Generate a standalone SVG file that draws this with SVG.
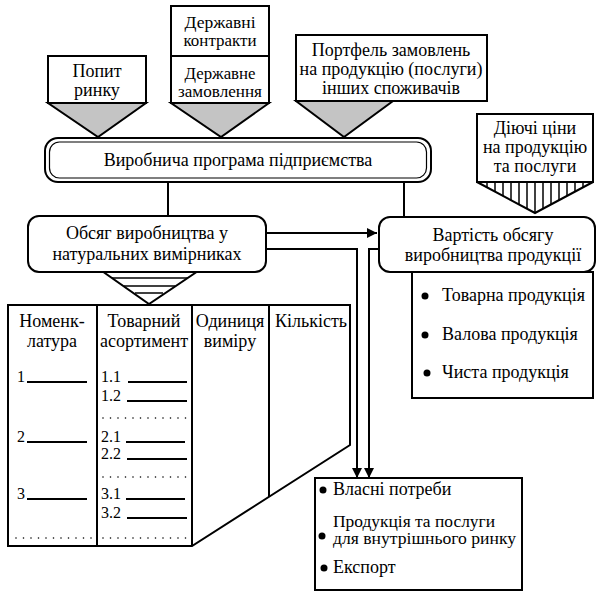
<svg xmlns="http://www.w3.org/2000/svg" width="605" height="600" viewBox="0 0 605 600" font-family="Liberation Serif, Times New Roman, serif">
<defs>
<style>
text{font-size:18px;fill:#000;}
.s{font-size:16px;}
.c{text-anchor:middle;}
.box{fill:#fff;stroke:#000;stroke-width:2;}
.tri{fill:#c4c4c4;stroke:#000;stroke-width:2;}
.ln{fill:none;stroke:#000;stroke-width:2;}
.thin{fill:none;stroke:#000;stroke-width:1.5;}
.dots{fill:none;stroke:#000;stroke-width:1.6;stroke-dasharray:0 7.5;stroke-linecap:round;}
</style>
<marker id="ah" viewBox="0 0 10 10" refX="10" refY="5" markerWidth="5" markerHeight="5" orient="auto" markerUnits="strokeWidth">
<path d="M0,0 L10,5 L0,10 z" fill="#000"/>
</marker>
</defs>
<rect width="605" height="600" fill="#fff"/>

<g id="connectors">
<line class="ln" x1="168" y1="182" x2="168" y2="216"/>
<line class="ln" x1="404" y1="182" x2="404" y2="217"/>
<line class="ln" x1="266" y1="233" x2="377" y2="233" marker-end="url(#ah)"/>
<polyline class="ln" points="266,249 357,249 357,478" marker-end="url(#ah)"/>
<polyline class="ln" points="379,249 369,249 369,478" marker-end="url(#ah)"/>
</g>

<g id="popyt">
<polygon class="tri" points="48,103 146,103 98,137"/>
<rect class="box" x="48" y="56" width="98" height="47"/>
<text class="c" x="97" y="77">Попит</text>
<text class="c" x="97" y="96">ринку</text>
</g>

<g id="kontrakty">
<rect class="box" x="171" y="6" width="98" height="50"/>
<text class="c s" x="220" y="28" textLength="71" lengthAdjust="spacingAndGlyphs">Державні</text>
<text class="c s" x="220" y="46" textLength="73" lengthAdjust="spacingAndGlyphs">контракти</text>
</g>

<g id="zamovlennia">
<polygon class="tri" points="171,103 269,103 221,137"/>
<rect class="box" x="171" y="56" width="98" height="47"/>
<text class="c s" x="220" y="79" textLength="71" lengthAdjust="spacingAndGlyphs">Державне</text>
<text class="c s" x="220" y="97" textLength="84" lengthAdjust="spacingAndGlyphs">замовлення</text>
</g>

<g id="portfel">
<polygon class="tri" points="296,101 393,101 344,137"/>
<rect class="box" x="296" y="35" width="191" height="66"/>
<text class="c" x="391" y="56">Портфель замовлень</text>
<text class="c" x="391" y="75">на продукцію (послуги)</text>
<text class="c" x="391" y="94">інших споживачів</text>
</g>

<g id="tsiny">
<polygon fill="#fff" stroke="#000" stroke-width="2" points="477,182 593,182 535,213"/>
<g class="thin">
<line x1="487" y1="182" x2="487" y2="187"/>
<line x1="495" y1="182" x2="495" y2="192"/>
<line x1="503" y1="182" x2="503" y2="196"/>
<line x1="511" y1="182" x2="511" y2="200"/>
<line x1="519" y1="182" x2="519" y2="205"/>
<line x1="527" y1="182" x2="527" y2="209"/>
<line x1="535" y1="182" x2="535" y2="213"/>
<line x1="543" y1="182" x2="543" y2="209"/>
<line x1="551" y1="182" x2="551" y2="205"/>
<line x1="559" y1="182" x2="559" y2="200"/>
<line x1="567" y1="182" x2="567" y2="196"/>
<line x1="575" y1="182" x2="575" y2="192"/>
<line x1="583" y1="182" x2="583" y2="187"/>
</g>
<rect class="box" x="477" y="114" width="116" height="68"/>
<text class="c" x="535" y="134">Діючі ціни</text>
<text class="c" x="535" y="153">на продукцію</text>
<text class="c" x="535" y="172">та послуги</text>
</g>

<g id="prohrama">
<rect x="45" y="138" width="386" height="44" rx="13" fill="#fff" stroke="#000" stroke-width="2"/>
<rect x="49.5" y="142" width="377" height="36" rx="10" fill="none" stroke="#000" stroke-width="1.2"/>
<text class="c" x="238" y="166">Виробнича програма підприємства</text>
</g>

<g id="obsiah">
<polygon fill="#fff" stroke="#000" stroke-width="2" points="102,271 198,271 149,304"/>
<g class="thin">
<line x1="112" y1="278" x2="188" y2="278"/>
<line x1="124" y1="286" x2="175" y2="286"/>
<line x1="135" y1="293" x2="163" y2="293"/>
</g>
<rect class="box" x="28" y="216" width="238" height="56" rx="11"/>
<text class="c" x="147" y="239">Обсяг виробництва у</text>
<text class="c" x="147" y="260">натуральних вимірниках</text>
</g>

<g id="vartist">
<rect class="box" x="379" y="217" width="216" height="55" rx="11"/>
<text class="c" x="493" y="241">Вартість обсягу</text>
<text class="c" x="493" y="261">виробництва продукції</text>
</g>

<g id="vydy">
<rect class="box" x="412" y="272" width="181" height="126"/>
<circle cx="425" cy="296" r="3.5"/>
<text x="442" y="301">Товарна продукція</text>
<circle cx="425" cy="335" r="3.5"/>
<text x="442" y="340">Валова продукція</text>
<circle cx="427" cy="373" r="3.5"/>
<text x="442" y="378">Чиста продукція</text>
</g>

<g id="tablytsia">
<polygon class="box" points="8,305 350,305 350,445 192,546 8,546"/>
<line class="ln" x1="97" y1="305" x2="97" y2="546"/>
<line class="ln" x1="192" y1="305" x2="192" y2="546"/>
<line class="ln" x1="269" y1="305" x2="269" y2="497"/>
<text class="c" x="52" y="327">Номенк-</text>
<text class="c" x="52" y="347">латура</text>
<text class="c" x="144" y="327">Товарний</text>
<text class="c" x="144" y="347">асортимент</text>
<text class="c" x="230" y="327">Одиниця</text>
<text class="c" x="230" y="347">виміру</text>
<text class="c" x="311" y="327">Кількість</text>
<g class="ln">
<line x1="27" y1="382" x2="87" y2="382"/>
<line x1="128" y1="382" x2="187" y2="382"/>
<line x1="127" y1="401" x2="187" y2="401"/>
<line x1="27" y1="442" x2="87" y2="442"/>
<line x1="126" y1="442" x2="185" y2="442"/>
<line x1="127" y1="459" x2="187" y2="459"/>
<line x1="27" y1="499" x2="87" y2="499"/>
<line x1="126" y1="499" x2="185" y2="499"/>
<line x1="127" y1="518" x2="187" y2="518"/>
</g>
<text class="s" x="17" y="382">1</text>
<text class="s" x="101" y="382">1.1</text>
<text class="s" x="101" y="401">1.2</text>
<text class="s" x="17" y="442">2</text>
<text class="s" x="101" y="442">2.1</text>
<text class="s" x="101" y="459">2.2</text>
<text class="s" x="17" y="499">3</text>
<text class="s" x="101" y="499">3.1</text>
<text class="s" x="101" y="518">3.2</text>
<line class="dots" x1="103" y1="418" x2="186" y2="418"/>
<line class="dots" x1="103" y1="477" x2="186" y2="477"/>
<line class="dots" x1="16" y1="538" x2="92" y2="538"/>
<line class="dots" x1="103" y1="538" x2="186" y2="538"/>
</g>

<g id="napriamy">
<rect class="box" x="315" y="478" width="207" height="112"/>
<circle cx="323" cy="490" r="3.5"/>
<text x="333" y="495">Власні потреби</text>
<circle cx="322" cy="536" r="3.5"/>
<text class="s" x="333" y="527" textLength="162" lengthAdjust="spacingAndGlyphs">Продукція та послуги</text>
<text class="s" x="333" y="544" textLength="183" lengthAdjust="spacingAndGlyphs">для внутрішнього ринку</text>
<circle cx="324" cy="568" r="3.5"/>
<text x="333" y="573">Експорт</text>
</g>
</svg>
